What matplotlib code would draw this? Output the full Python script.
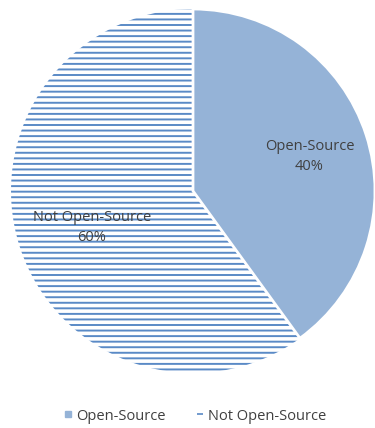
import matplotlib
matplotlib.use("Agg")
import matplotlib.pyplot as plt
from matplotlib.lines import Line2D

# Data
labels = ["Open-Source", "Not Open-Source"]
shares = [40, 60]

fill_color = "#95B3D7"
hatch_color = "#5A8AC6"
text_color = "#404040"

plt.rcParams['font.family'] = ['Open Sans', 'DejaVu Sans']
plt.rcParams['hatch.linewidth'] = 1.4

fig = plt.figure(figsize=(3.75, 4.28), dpi=100)
ax = fig.add_axes([11 / 375, (428 - 373) / 428, 364 / 375, 364 / 428])

wedges, _ = ax.pie(shares, startangle=90, counterclock=False, radius=1)
wedges[0].set_facecolor(fill_color)
wedges[0].set_edgecolor("white")
wedges[0].set_linewidth(2)
wedges[0].set_zorder(3)
wedges[1].set_facecolor("white")
wedges[1].set_edgecolor(hatch_color)
wedges[1].set_hatch("---")
wedges[1].set_linewidth(0)
ax.set_xlim(-1, 1)
ax.set_ylim(-1, 1)

# slice labels
ax.text(0.64, 0.19, f"{labels[0]}\n{shares[0]}%", ha="center", va="center",
        fontsize=10.5, color=text_color, linespacing=1.5, zorder=5)
ax.text(-0.555, -0.20, f"{labels[1]}\n{shares[1]}%", ha="center", va="center",
        fontsize=10.5, color=text_color, linespacing=1.5, zorder=5)

handles = [
    Line2D([], [], linestyle="none", marker="s", markersize=5,
           markerfacecolor=fill_color, markeredgecolor=fill_color),
    Line2D([], [], linestyle="none", marker="_", markersize=5,
           markeredgewidth=1.2, markeredgecolor=hatch_color),
]
fig.legend(handles, labels, loc="center", bbox_to_anchor=(0.52, 1 - 416 / 428),
           ncol=2, frameon=False, fontsize=10.5, labelcolor=text_color,
           handlelength=0.6, handletextpad=0.3, columnspacing=2.0)

fig.savefig("out.png", dpi=100)
